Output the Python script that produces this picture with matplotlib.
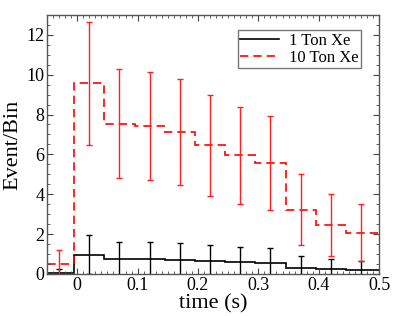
import numpy as np
import matplotlib
matplotlib.use("Agg")
import matplotlib.pyplot as plt
from matplotlib.ticker import MultipleLocator

# bin centres (s) and contents
centers = [-0.03, 0.02, 0.07, 0.12, 0.17, 0.22, 0.27, 0.32, 0.37, 0.42, 0.47]
ton10 = [0.49, 9.57, 7.53, 7.41, 7.11, 6.46, 5.95, 5.56, 3.23, 2.44, 2.08]
ton10_err = [0.70, 3.09, 2.74, 2.72, 2.67, 2.54, 2.44, 2.36, 1.80, 1.56, 1.45]
ton1 = [0.05, 0.96, 0.75, 0.74, 0.71, 0.65, 0.60, 0.56, 0.32, 0.24, 0.21]
ton1_err = [0.22, 0.98, 0.87, 0.86, 0.84, 0.80, 0.77, 0.74, 0.57, 0.49, 0.46]
bin_edges = [-0.055, -0.005, 0.045, 0.095, 0.145, 0.195, 0.245, 0.295, 0.345, 0.395, 0.445, 0.51]

plt.rcParams['font.family'] = ['Liberation Serif', 'DejaVu Serif']

fig = plt.figure(figsize=(4.09, 3.16), dpi=100)
ax = fig.add_axes([0.115, 0.133, 0.812, 0.82])

ax.stairs(ton1, bin_edges, color='black', lw=1.2, label='1 Ton Xe')
ax.stairs(ton10, bin_edges, color='red', lw=1.2, ls=(0, (5, 3)), label='10 Ton Xe')
ax.errorbar(centers, ton1, yerr=ton1_err, fmt='none', ecolor='black', elinewidth=1.0,
            capsize=2.0, capthick=1.0)
ax.errorbar(centers, ton10, yerr=ton10_err, fmt='none', ecolor='#ff2020', elinewidth=1.0,
            capsize=2.0, capthick=1.0)

ax.set_xlim(-0.05, 0.5)
ax.set_ylim(0, 13)
ax.xaxis.set_major_locator(MultipleLocator(0.1))
ax.xaxis.set_minor_locator(MultipleLocator(0.01))
ax.yaxis.set_major_locator(MultipleLocator(2))
ax.yaxis.set_minor_locator(MultipleLocator(0.5))
ax.set_xticks([0, 0.1, 0.2, 0.3, 0.4, 0.5])
ax.set_xticklabels(['0', '0.1', '0.2', '0.3', '0.4', '0.5'])
ax.tick_params(which='both', direction='in', top=True, right=True, color='#444444')
ax.tick_params(which='major', length=4, labelsize=13, pad=2)
ax.tick_params(which='minor', length=2)
for s in ax.spines.values():
    s.set_color('#555555')
    s.set_linewidth(1.0)

ax.set_xlabel('time (s)', fontsize=16, labelpad=0)
ax.set_ylabel('Event/Bin', fontsize=16, labelpad=3)

leg = ax.legend(loc='upper right', bbox_to_anchor=(0.945, 0.94), fontsize=12,
                frameon=True, fancybox=False, handlelength=2.3, borderpad=0.15,
                labelspacing=0.05, handletextpad=0.6, borderaxespad=0)
leg.get_frame().set_edgecolor('#555555')
leg.get_frame().set_linewidth(1.0)

fig.savefig('out.png', dpi=100)
